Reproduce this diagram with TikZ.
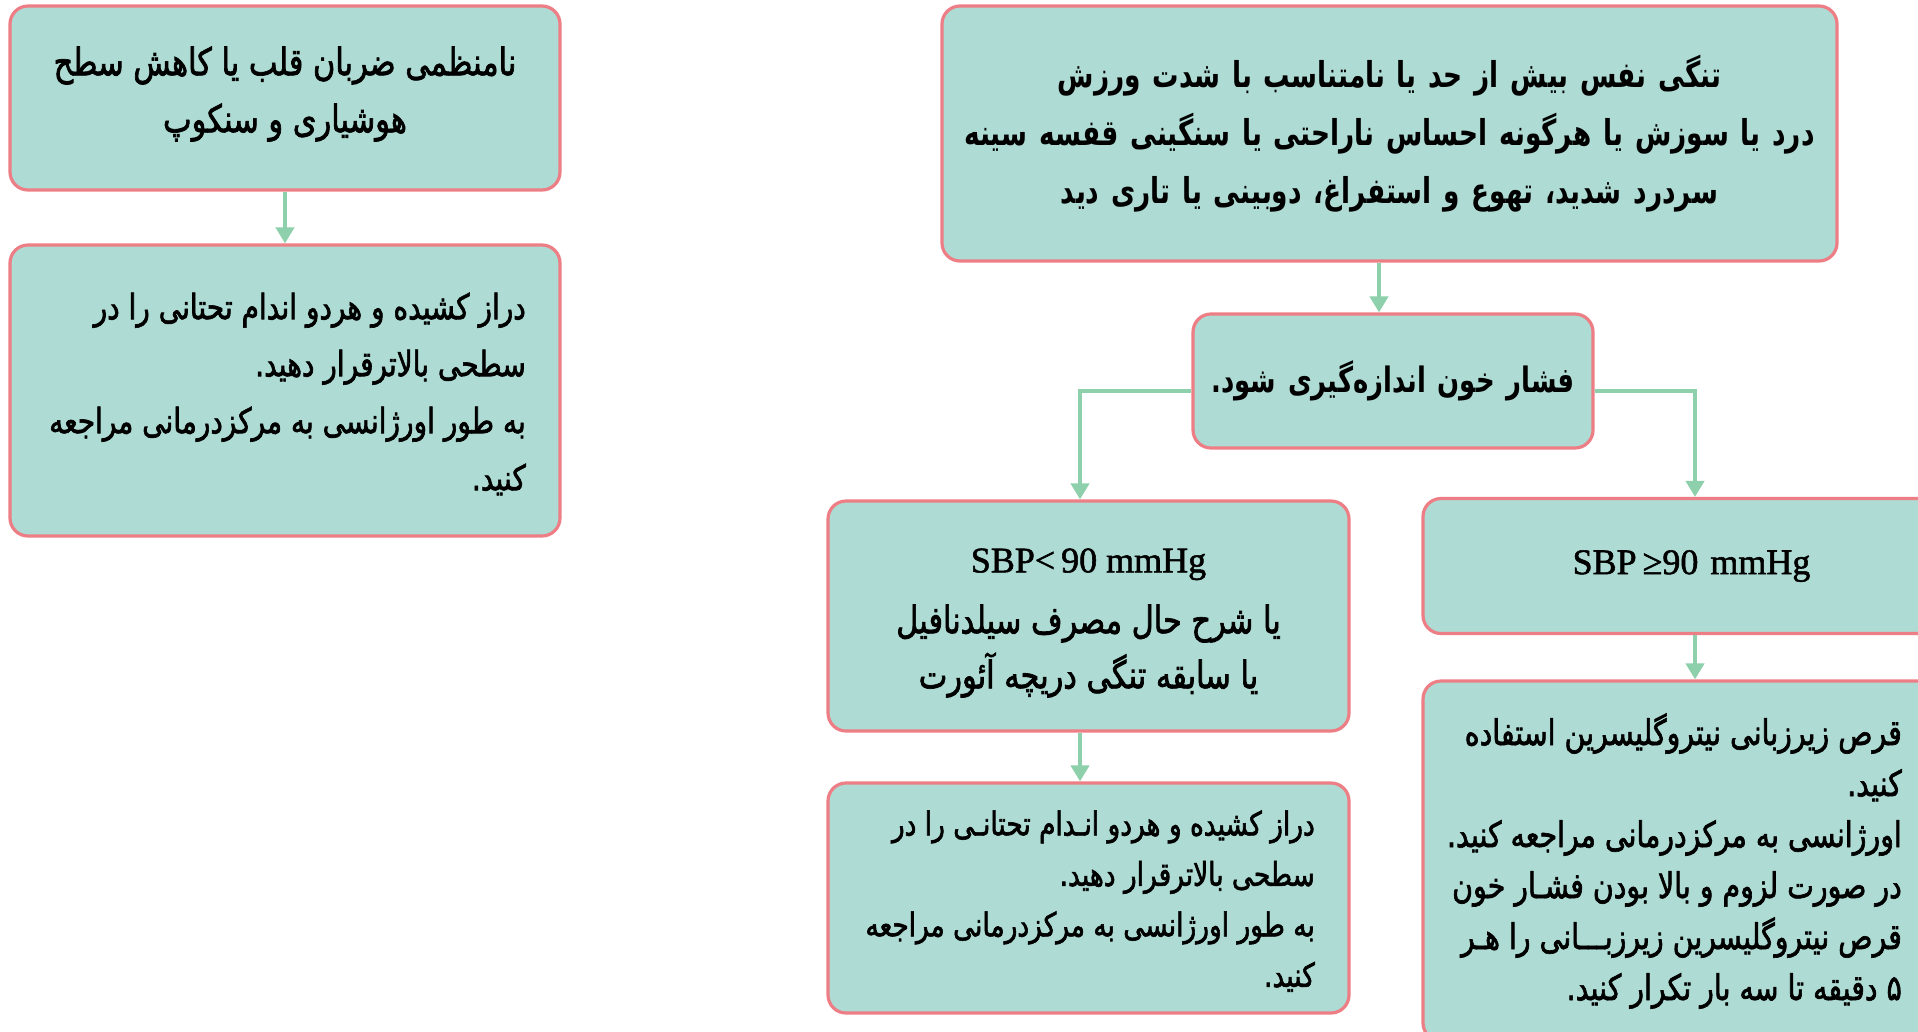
\documentclass[tikz,border=0pt]{standalone}
\usepackage{fontspec}
\usetikzlibrary{arrows.meta}
\TeXXeTstate=1
\newfontfamily\fa[Script=Arabic,FakeStretch=0.8,FakeBold=1.8]{DejaVu Sans}
\newfontfamily\faB[Script=Arabic,FakeStretch=0.74]{DejaVu Sans Bold}
\newfontfamily\sbpfont[FakeBold=1.5]{Liberation Serif}
\newcommand{\myrtl}[1]{\beginR #1\endR}
\definecolor{boxfill}{HTML}{AEDBD3}
\definecolor{boxline}{HTML}{EE7E86}
\definecolor{arrowc}{HTML}{8ED0AC}
\begin{document}
\begin{tikzpicture}[x=1pt,y=-1pt,
  box/.style={draw=boxline, fill=boxfill, line width=3.2pt, rounded corners=18pt, inner sep=0pt, rectangle},
  txt/.style={inner sep=0pt, align=right, anchor=east},
  arr/.style={draw=arrowc, line width=4pt, -{Triangle[width=18pt,length=16pt]}},
  sbp/.style={font={\sbpfont\fontsize{36}{40}\selectfont}}
]
\useasboundingbox (0,0) rectangle (1918,1031);
\clip (0,0) rectangle (1918,1031);
\fill[white] (0,0) rectangle (1918,1031);

% left column
\node[box, minimum width=550pt, minimum height=184pt] (tl) at (285,98) {};
\node[inner sep=0pt, align=center, font={\fa\fontsize{38}{57}\selectfont}] (tlt) at (285,94)
 {\myrtl{نامنظمی ضربان قلب یا کاهش سطح}\\ \myrtl{هوشیاری و سنکوپ}};
\node[box, minimum width=550pt, minimum height=291pt] (l2) at (285,390.5) {};
\node[txt, font={\fa\fontsize{35}{57}\selectfont}] (l2t) at (526,394)
 {\myrtl{دراز کشیده و هردو اندام تحتانی را در}\\ \myrtl{سطحی بالاترقرار دهید.}\\ \myrtl{به طور اورژانسی به مرکزدرمانی مراجعه}\\ \myrtl{کنید.}};

% top centre
\node[box, font={\faB\fontsize{35.6}{58}\selectfont}, minimum width=895pt, minimum height=255pt, text width=890pt, align=center] (tc) at (1389.5,133.5)
 {\myrtl{تنگی نفس بیش از حد یا نامتناسب با شدت ورزش}\\ \myrtl{درد یا سوزش یا هرگونه احساس ناراحتی یا سنگینی قفسه سینه}\\ \myrtl{سردرد شدید، تهوع و استفراغ، دوبینی یا تاری دید}};
\node[box, font={\faB\fontsize{35}{58}\selectfont}, minimum width=400pt, minimum height=134pt, text width=398pt, align=center] (m) at (1393,381)
 {\myrtl{فشار خون اندازه‌گیری شود.}};

% SBP < 90 branch
\node[box, minimum width=521pt, minimum height=230pt] (lt) at (1088.5,616) {};
\node[inner sep=0pt, align=center, font={\fa\fontsize{38}{55}\selectfont}] (ltt) at (1088.5,623)
 {{\sbpfont\fontsize{36}{40}\selectfont SBP<\,90 mmHg}\\[6pt] \myrtl{یا شرح حال مصرف سیلدنافیل}\\ \myrtl{یا سابقه تنگی دریچه آئورت}};
\node[box, minimum width=521pt, minimum height=230pt] (bc) at (1088.5,898) {};
\node[txt, font={\fa\fontsize{33}{50.5}\selectfont}] (bct) at (1315,901)
 {\myrtl{دراز کشیده و هردو انـدام تحتانـی را در}\\ \myrtl{سطحی بالاترقرار دهید.}\\ \myrtl{به طور اورژانسی به مرکزدرمانی مراجعه}\\ \myrtl{کنید.}};

% SBP >= 90 branch
\node[box, sbp, minimum width=537pt, minimum height=135pt, text width=480pt, align=center] (ge) at (1691.5,566)
 {SBP\,≥90 mmHg};
\node[box, minimum width=512pt, minimum height=360pt] (br) at (1679,861) {};
\node[txt, font={\fa\fontsize{35.5}{51}\selectfont}] (brt) at (1902,861)
 {\myrtl{قرص زیرزبانی نیتروگلیسرین استفاده}\\ \myrtl{کنید.}\\ \myrtl{اورژانسی به مرکزدرمانی مراجعه کنید.}\\ \myrtl{در صورت لزوم و بالا بودن فشـار خون}\\ \myrtl{قرص نیتروگلیسرین زیرزبـــانی را هـر}\\ \myrtl{۵ دقیقه تا سه بار تکرار کنید.}};

% connectors
\coordinate (cA) at (1379,0);
\coordinate (cL) at (1080,391);
\coordinate (cR) at (1695,391);
\draw[arr] (tl.south) -- (l2.north);
\draw[arr] (cA |- tc.south) -- (cA |- m.north);
\draw[arr] (m.west |- cL) -| (lt.north -| cL);
\draw[arr] (m.east |- cR) -| (ge.north -| cR);
\draw[arr] (lt.south -| cL) -- (bc.north -| cL);
\draw[arr] (ge.south -| cR) -- (br.north -| cR);
\end{tikzpicture}
\end{document}
